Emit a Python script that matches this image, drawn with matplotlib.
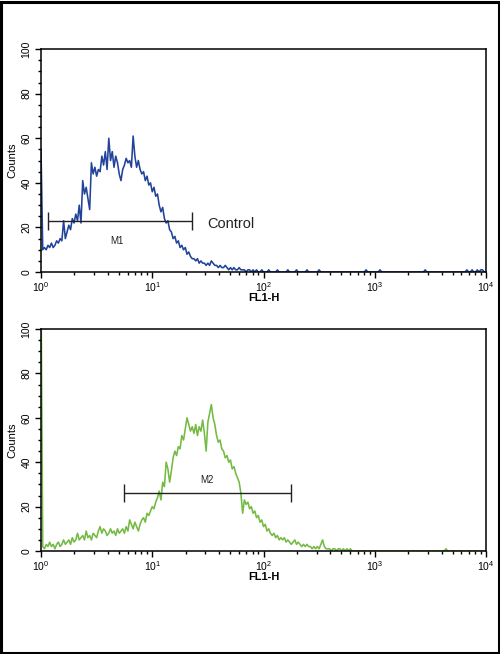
import matplotlib
matplotlib.use("Agg")
import matplotlib.pyplot as plt
from matplotlib.patches import Rectangle
from matplotlib.ticker import MultipleLocator, LogLocator, NullFormatter
import numpy as np

plt.rcParams['font.family'] = ['Liberation Sans', 'DejaVu Sans']

# ---- data: counts per channel (256 channels over 4 log decades) ----
channels = list(range(256))

control_counts = (
    [55, 10, 11, 10, 12, 11, 13, 11, 12, 14, 13, 15, 14, 23, 15, 18, 21, 19, 24, 22,
     26, 23, 30, 22, 41, 35, 38, 33, 28, 49, 44, 47, 43, 46, 45, 52, 48, 54, 46, 60,
     50, 54, 47, 52, 49, 44, 41, 46, 48, 51, 49, 50, 47, 61, 52, 47, 50, 46, 44, 45,
     41, 43, 39, 40, 36, 38, 34, 35, 30, 27, 29, 24, 22, 23, 19, 18, 15, 16, 13, 14,
     11, 12, 10, 11, 8, 9, 7, 6, 6, 5, 6, 4, 5, 4, 4, 3, 4, 3, 5, 4,
     3, 3, 2, 3, 2, 2, 3, 2, 1, 2, 1, 2, 1, 1, 2, 1, 1, 1, 0, 1,
     1, 0, 1, 0, 1, 0, 0, 1, 0, 0, 0, 1, 0, 0, 0, 0, 1, 0, 0, 0,
     0, 0, 1, 0, 0, 0, 0, 1, 0, 0, 0, 0, 0, 1, 0, 0, 0, 0, 0, 0,
     1, 0, 0, 0, 0, 0, 0, 0, 0, 0, 0, 0, 0, 0, 0, 0, 0, 0, 0, 0,
     0, 0, 0, 0, 0, 0, 0, 1, 0, 0, 0, 0, 0, 0, 0, 1, 0, 0, 0, 0,
     0, 0, 0, 0, 0, 0, 0, 0, 0, 0, 0, 0, 0, 0, 0, 0, 0, 0, 0, 0,
     0, 1, 0, 0, 0, 0, 0, 0, 0, 0, 0, 0, 0, 0, 0, 0, 0, 0, 0, 0,
     0, 0, 0, 0, 0, 1, 0, 0, 1, 0, 0, 1, 0, 1, 1, 0]
)

sample_counts = (
    [120, 2, 1, 3, 2, 4, 2, 3, 1, 3, 4, 2, 3, 5, 3, 4, 5, 3, 6, 4,
     5, 8, 5, 6, 7, 5, 9, 6, 7, 5, 8, 7, 6, 9, 11, 8, 10, 9, 7, 8,
     10, 8, 9, 7, 10, 8, 9, 10, 8, 11, 9, 14, 12, 10, 13, 11, 9, 12, 14, 15,
     13, 17, 16, 18, 20, 19, 22, 24, 27, 23, 31, 29, 40, 37, 31, 36, 42, 45, 43, 47,
     46, 52, 50, 55, 60, 57, 54, 56, 53, 57, 52, 56, 54, 59, 53, 45, 58, 62, 66, 60,
     57, 52, 49, 50, 46, 45, 42, 43, 40, 41, 37, 38, 35, 33, 31, 26, 17, 23, 21, 22,
     19, 20, 17, 18, 15, 16, 13, 14, 11, 12, 9, 10, 8, 7, 8, 6, 7, 5, 6, 5,
     6, 4, 5, 4, 3, 4, 5, 3, 4, 3, 2, 3, 2, 3, 2, 2, 1, 2, 1, 2,
     1, 3, 5, 2, 1, 1, 1, 0, 1, 1, 0, 1, 1, 0, 1, 0, 1, 0, 1, 0,
     0, 0, 0, 0, 0, 0, 0, 0, 0, 0, 0, 0, 0, 0, 0, 0, 0, 0, 0, 0,
     0, 0, 0, 0, 0, 0, 0, 0, 0, 0, 0, 0, 0, 0, 0, 0, 0, 0, 0, 0,
     0, 0, 0, 0, 0, 0, 0, 0, 0, 0, 0, 0, 0, 1, 0, 0, 0, 0, 0, 0,
     0, 0, 0, 0, 0, 0, 0, 0, 0, 0, 0, 0, 0, 0, 0, 0]
)

channels_per_decade = 64

# marker gates: (start, end, level)
m1_gate = (1.15, 22.6, 23)
m2_gate = (5.6, 175, 26)
m1_label = (4.8, 14)
m2_label = (31, 32)
control_label = (31, 21.5)

blue = '#22439a'
green = '#74ba44'

fig = plt.figure(figsize=(5.0, 6.54), dpi=100)
fig.patches.append(Rectangle((0.002, 0.0015), 0.995, 0.996, transform=fig.transFigure,
                             fill=False, edgecolor='black', linewidth=2.2))

ax1 = fig.add_axes([0.082, 0.584, 0.89, 0.341])
ax2 = fig.add_axes([0.082, 0.1575, 0.89, 0.3394])


def style(ax):
    ax.set_xscale('log')
    ax.set_xlim(1, 1e4)
    ax.set_ylim(0, 100)
    ax.yaxis.set_major_locator(MultipleLocator(20))
    ax.yaxis.set_minor_locator(MultipleLocator(5))
    ax.xaxis.set_major_locator(LogLocator(base=10, numticks=10))
    ax.xaxis.set_minor_locator(LogLocator(base=10, subs=np.arange(2, 10), numticks=20))
    ax.xaxis.set_minor_formatter(NullFormatter())
    ax.tick_params(which='both', direction='out', top=False, right=False, labelsize=7.5,
                   width=1.0, color='black')
    ax.tick_params(which='major', length=4)
    ax.tick_params(which='minor', length=2.5)
    for lab in ax.get_yticklabels():
        lab.set_rotation(90)
        lab.set_va('center')
    ax.tick_params(axis='y', pad=3)
    ax.tick_params(axis='x', pad=2)
    for s in ax.spines.values():
        s.set_linewidth(1.1)
    ax.set_ylabel('Counts', fontsize=8, labelpad=3)
    ax.set_xlabel('FL1-H', fontsize=8, fontweight='bold', labelpad=-1)


ch = np.array(channels)
fl = 10 ** (ch / channels_per_decade)

ax1.plot(fl, control_counts, color=blue, linewidth=1.15, clip_on=True)
style(ax1)
ax1.hlines(m1_gate[2], m1_gate[0], m1_gate[1], color='#222222', linewidth=1.0)
ax1.vlines([m1_gate[0], m1_gate[1]], m1_gate[2] - 4, m1_gate[2] + 4, color='#222222', linewidth=1.0)
ax1.text(m1_label[0], m1_label[1], 'M1', fontsize=7, ha='center', va='center', color='#222222')
ax1.text(control_label[0], control_label[1], 'Control', fontsize=10.5, ha='left', va='center',
         color='#222222')

ax2.plot(fl, sample_counts, color=green, linewidth=1.15, clip_on=True)
style(ax2)
ax2.hlines(m2_gate[2], m2_gate[0], m2_gate[1], color='#222222', linewidth=1.0)
ax2.vlines([m2_gate[0], m2_gate[1]], m2_gate[2] - 4, m2_gate[2] + 4, color='#222222', linewidth=1.0)
ax2.text(m2_label[0], m2_label[1], 'M2', fontsize=7, ha='center', va='center', color='#222222')

fig.savefig('out.png', dpi=100)
